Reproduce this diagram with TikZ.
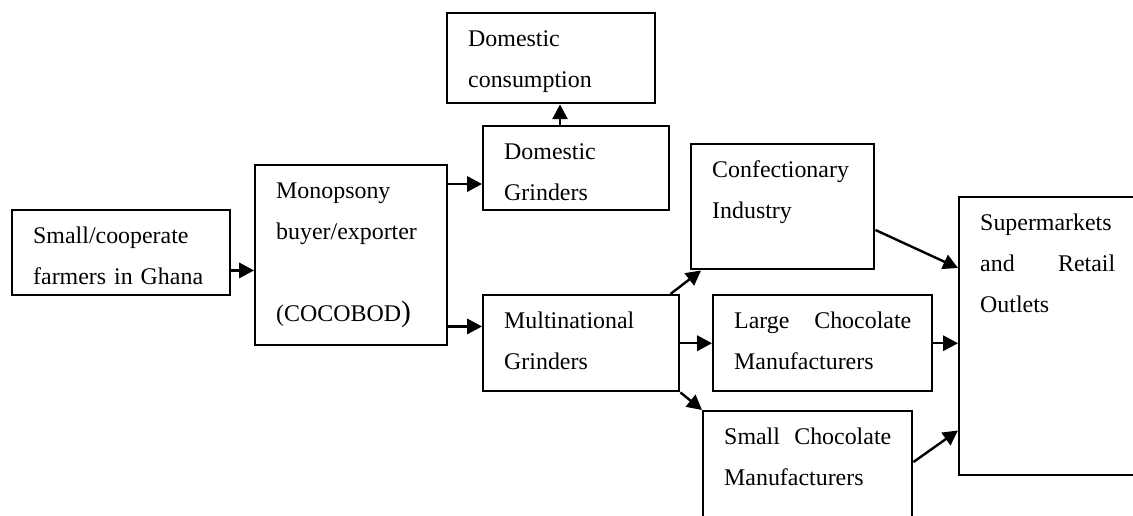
\documentclass[tikz,border=0pt]{standalone}
\usepackage{fontspec}
\setmainfont{Liberation Serif}
\usetikzlibrary{arrows.meta,calc}
\tikzset{
  stage/.style={draw, line width=0.06cm, anchor=north west, align=left,
    inner xsep=0.525cm, inner ysep=0pt, text height=0.825cm,
    font=\fontsize{17}{29.2}\selectfont},
  flow/.style={line width=0.06cm, -{Triangle[length=0.37cm,width=0.38cm]}}
}
\begin{document}
\begin{tikzpicture}[x=0.025cm,y=-0.025cm]
  \useasboundingbox (0,0) rectangle (1133,515);
  \clip (0,0) rectangle (1133,515);

  % Box for the farmers
  \node (farmers) [stage, text width=4.4cm, text depth=1.3cm] at (11,209) {Small/cooperate\\farmers in Ghana};%

  % Box for the monopsony buyer
  \node (cocobod) [stage, text width=3.75cm, text depth=3.675cm] at (254,164) {Monopsony\\buyer/exporter\\\mbox{}\\(COCOBOD{\fontsize{21}{21}\selectfont)}};%

  % Box for domestic consumption
  \node (consumption) [stage, text width=4.15cm, text depth=1.425cm] at (446,12) {Domestic\\consumption};%

  % Box for domestic grinders
  \node (domgrind) [stage, text width=3.6cm, text depth=1.275cm] at (482,125) {Domestic\\Grinders};%

  % Box for the confectionary industry
  \node (confect) [stage, text width=3.525cm, text depth=2.3cm] at (690,143) {Confectionary\\Industry};%

  % Box for multinational grinders
  \node (multinat) [stage, text width=3.85cm, text depth=1.575cm] at (482,294) {Multinational\\Grinders};%

  % Box for large manufacturers
  \node (large) [stage, text width=4.425cm, text depth=1.575cm] at (712,294) {Large\hfill Chocolate\\Manufacturers};%

  % Box for small manufacturers
  \node (small) [stage, text width=4.175cm, text depth=2.425cm] at (702,410) {Small\hfill Chocolate\\Manufacturers};%

  % Box for supermarkets and retail
  \node (retail) [stage, text width=3.375cm, text depth=6.125cm] at (958,196) {Supermarkets\\and\hfill Retail\\Outlets};%

  % Arrow farmers to buyer
  \coordinate (f1) at ($(farmers.south east)+(0,-26)$);
  \draw [flow] (f1) -- (f1 -| cocobod.west);%

  % Arrows out of the buyer
  \coordinate (c1) at ($(cocobod.north east)+(0,20)$);
  \coordinate (c2) at ($(cocobod.south east)+(0,-20)$);
  \draw [flow] (c1) -- (c1 -| domgrind.west);%
  \draw [flow] (c2) -- (c2 -| multinat.west);%

  % Arrow domestic grinders to consumption
  \coordinate (g1) at ($(domgrind.north west)+(78,0)$);
  \draw [flow] (g1) -- (g1 |- consumption.south);%

  % Arrows out of the multinational grinders
  \draw [flow] ($(multinat.north east)+(-10,0)$) -- ($(confect.south west)+(11,0)$);%
  \draw [flow] (multinat.east) -- (large.west);%
  \draw [flow] (multinat.south east) -- (small.north west);%

  % Arrows into the retail outlets
  \draw [flow] ($(confect.north east)+(0,87)$) -- ($(retail.north west)+(0,72)$);%
  \draw [flow] (large.east) -- (large.east -| retail.west);%
  \draw [flow] ($(small.north east)+(0,52)$) -- ($(retail.south west)+(0,-46)$);%
\end{tikzpicture}
\end{document}
